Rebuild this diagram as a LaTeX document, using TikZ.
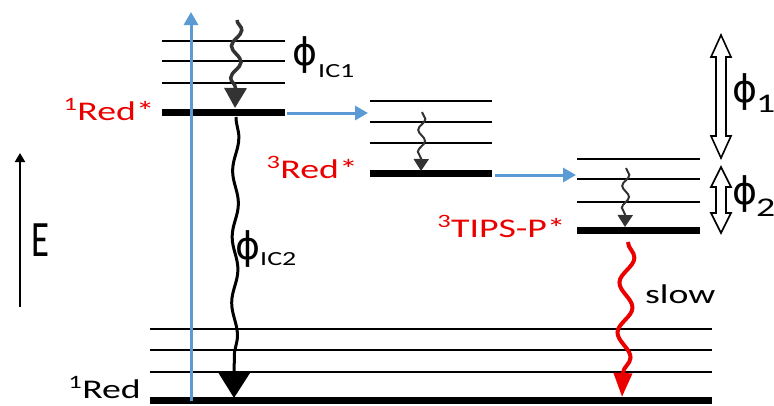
\documentclass[tikz,border=0pt]{standalone}
\usepackage{fontspec}
\setmainfont[FakeStretch=1.4]{Carlito}
\newfontfamily\phifont{DejaVu Sans}
\newfontfamily\efont[FakeStretch=0.72]{Carlito}
\usetikzlibrary{arrows.meta,decorations.pathmorphing}
\definecolor{myblue}{RGB}{91,155,213}
\definecolor{myred}{RGB}{235,0,0}
\newcommand{\myphi}{\symbol{"03D5}}
\begin{document}
\begin{tikzpicture}[x=1pt,y=-1pt,
  thinlvl/.style={line width=2.4pt},
  thicklvl/.style={line width=7pt},
  bluearr/.style={draw=myblue,line width=3pt,-{Triangle[length=13pt,width=14pt]}},
  lbl/.style={inner sep=0pt,font=\fontsize{27}{30}\selectfont},
  sublbl/.style={inner sep=0pt,font=\fontsize{20}{24}\selectfont},
  philbl/.style={inner sep=0pt,font=\phifont\fontsize{38}{42}\selectfont},
  smallwave/.style={draw=black!80,line width=2pt,decorate,
     decoration={snake,amplitude=3.5pt,segment length=22pt,post length=10pt},
     -{Triangle[length=12pt,width=15pt]}},
  hollow/.style={draw=black,line width=1.6pt,fill=white,line join=miter}
]
\useasboundingbox (0,0) rectangle (774,405);

% group 1 levels
\foreach \y in {41,61,83} \draw[thinlvl] (162,\y) -- (285,\y);
\draw[thicklvl] (162,112) -- (285,112);
% group 2 levels
\foreach \y in {101,122,143} \draw[thinlvl] (370,\y) -- (492,\y);
\draw[thicklvl] (370,173) -- (492,173);
% group 3 levels
\foreach \y in {159,179,202} \draw[thinlvl] (577,\y) -- (700,\y);
\draw[thicklvl] (577,230) -- (700,230);
% ground levels
\foreach \y in {329,350,372} \draw[thinlvl] (150,\y) -- (712,\y);
\draw[thicklvl] (150,400) -- (712,400);

% coordinates
\coordinate (exs) at (191,401);
\coordinate (exe) at (191,12);
\coordinate (b1s) at (287,113);
\coordinate (b1e) at (368,113);
\coordinate (b2s) at (495,175);
\coordinate (b2e) at (576,175);
\coordinate (w1s) at (237,20);
\coordinate (w1e) at (235,108);
\coordinate (w2s) at (422,112);
\coordinate (w2e) at (421,171);
\coordinate (w3s) at (626,168);
\coordinate (w3e) at (625,227);
\coordinate (ics) at (236,117);
\coordinate (ice) at (234,398);
\coordinate (sls) at (628,242);
\coordinate (sle) at (622,397);
\coordinate (es) at (20,307);
\coordinate (ee) at (20,153);

% blue arrows
\draw[bluearr] (exs) -- (exe);
\draw[bluearr] (b1s) -- (b1e);
\draw[bluearr] (b2s) -- (b2e);

% wavy arrows in groups
\draw[draw=black!80,line width=3.5pt,decorate,
     decoration={snake,amplitude=5pt,segment length=32pt,post length=14pt},
     -{Triangle[length=20pt,width=22pt]}] (w1s) -- (w1e);
\draw[smallwave] (w2s) -- (w2e);
\draw[smallwave] (w3s) -- (w3e);

% IC2 wave
\draw[line width=3pt,decorate,
     decoration={snake,amplitude=3pt,segment length=66pt,post length=20pt},
     -{Triangle[length=26pt,width=32pt]}] (ics) -- (ice);

% slow
\draw[draw=myred,line width=4pt,decorate,
     decoration={snake,amplitude=7pt,segment length=50pt,post length=18pt},
     -{Triangle[length=24pt,width=18pt]}, myred] (sls) -- (sle);

% energy axis
\draw[line width=2pt,-{Triangle[length=9pt,width=10pt]}] (es) -- (ee);
\node[inner sep=0pt,anchor=base west,font=\efont\fontsize{51}{55}\selectfont] (elab) at (31,256) {E};

% hollow double arrows
\draw[hollow] (721,35) -- (731,57) -- (726,57) -- (726,136) -- (731,136) -- (721,158)
   -- (711,136) -- (716,136) -- (716,57) -- (711,57) -- cycle;
\draw[hollow] (721,167) -- (731,187) -- (726,187) -- (726,213) -- (731,213) -- (721,233)
   -- (711,213) -- (716,213) -- (716,187) -- (711,187) -- cycle;

% labels
\node[lbl,text=myred,anchor=base east] (r1s) at (155,120) {\textsuperscript{1}Red*};
\node[lbl,text=myred,anchor=base east] (r3s) at (358,178) {\textsuperscript{3}Red*};
\node[lbl,text=myred,anchor=base east] (tips) at (566,237) {\textsuperscript{3}TIPS-P*};
\node[lbl,anchor=base east] (r1) at (141,398) {\textsuperscript{1}Red};
\node[lbl,anchor=base west] (slow) at (645,303) {slow};

\node[philbl] (phiA) at (305,55) {\myphi};
\node[sublbl,anchor=base west] (icA) at (318,77) {IC1};
\node[philbl] (phiB) at (248,249) {\myphi};
\node[sublbl,anchor=base west] (icB) at (260,265) {IC2};
\node[philbl] (phiC) at (745,92) {\myphi};
\node[lbl,anchor=base west] (oneC) at (756,112) {1};
\node[philbl] (phiD) at (745,194) {\myphi};
\node[lbl,anchor=base west] (twoD) at (756,216) {2};
\end{tikzpicture}
\end{document}
